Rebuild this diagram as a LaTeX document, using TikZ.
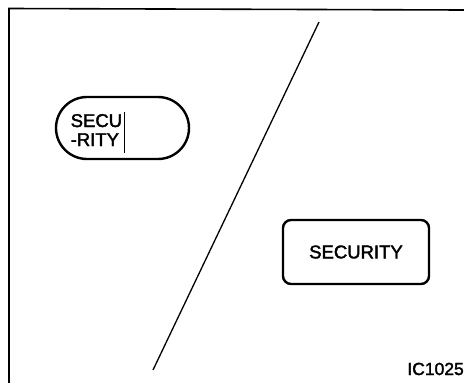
\documentclass[tikz,border=0pt]{standalone}
\usepackage{fontspec}
\setmainfont{Liberation Sans}[FakeBold=2]
\tikzset{
	keybox/.style={draw, line width=2.4pt, inner sep=0pt},
	lbl/.style={inner sep=0pt, font=\fontsize{18.5}{19}\selectfont},
}
\begin{document}
\begin{tikzpicture}[x=1pt,y=-1pt]
		\useasboundingbox (0,0) rectangle (464,383);
		\draw[line width=1.6pt] (9,383) -- (9,8.5) -- (464,10);
		\draw[line width=1.3pt] (319,22) coordinate (top) -- (153,370) coordinate (bot);
		\node[keybox, rounded corners=31pt, minimum width=133pt, minimum height=62pt] (pill) at (122.5,128) {};
		\node[lbl, anchor=base west] (secu) at (70.5,127) {SECU};
		\node[lbl, anchor=base west] (rity) at (70.5,146) {-RITY};
		\draw[line width=0.9pt] (124,112) coordinate (bartop) -- (124,153) coordinate (barbot);
		\node[keybox, rounded corners=8pt, minimum width=146pt, minimum height=64pt, lbl] (btn) at (356,252) {SECURITY};
		\node[lbl, font=\fontsize{17.5}{19}\selectfont, anchor=base east] (code) at (464,375) {IC1025};
	\end{tikzpicture}
\end{document}
